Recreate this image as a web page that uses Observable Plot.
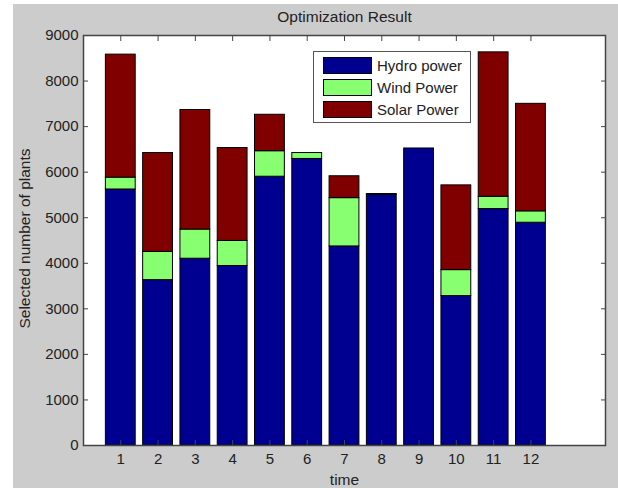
<!DOCTYPE html>
<html>
<head>
<meta charset="utf-8">
<script src="https://cdn.jsdelivr.net/npm/d3@7"></script>
<script src="https://cdn.jsdelivr.net/npm/@observablehq/plot@0.6"></script>
<style>
  body { margin: 0; background: #ffffff; }
  #wrap { position: relative; width: 618px; height: 488px; font-family: "Liberation Sans", Arial, sans-serif; }
  #legend { position: absolute; left: 313px; top: 51px; width: 156px; height: 70px; background: #fff; border: 1px solid #555; }
  .row { position: absolute; left: 9px; height: 17px; display: flex; align-items: center; }
  .sw { width: 47px; height: 15px; border: 1px solid #000; margin-right: 5px; }
  .lab { font-size: 15px; color: #222; white-space: nowrap; }
</style>
</head>
<body>
<div id="wrap"></div>
<script>
const times = [1, 2, 3, 4, 5, 6, 7, 8, 9, 10, 11, 12];
const seriesNames = ["Hydro power", "Wind Power", "Solar Power"];
const seriesColors = ["#000090", "#88ff70", "#800000"];
const hydro = [5620, 3630, 4100, 3940, 5900, 6290, 4370, 5500, 6520, 3280, 5190, 4890];
const wind  = [260, 620, 640, 550, 560, 130, 1060, 0, 0, 570, 270, 250];
const solar = [2700, 2170, 2625, 2040, 800, 0, 480, 20, 0, 1860, 3170, 2360];
const yTicks = [0, 1000, 2000, 3000, 4000, 5000, 6000, 7000, 8000, 9000];
const title = "Optimization Result";
const xLabel = "time";
const yLabel = "Selected number of plants";

const seriesValues = [hydro, wind, solar];
const rows = [];
times.forEach((t, i) => {
  let base = 0;
  seriesValues.forEach((vals, s) => {
    rows.push({t, series: seriesNames[s], y1: base, y2: base + vals[i]});
    base += vals[i];
  });
});

const fs = 15;
const chart = Plot.plot({
  width: 618,
  height: 488,
  marginLeft: 83,
  marginRight: 13,
  marginTop: 35,
  marginBottom: 43,
  style: {
    background: "linear-gradient(#cccccc, #cccccc) 13px 4px / 100% 100% no-repeat",
    fontFamily: "'Liberation Sans', Arial, sans-serif",
    fontSize: fs + "px",
    color: "#222"
  },
  x: {type: "linear", domain: [0, 14]},
  y: {domain: [0, 9000]},
  color: {domain: seriesNames, range: seriesColors},
  marks: [
    Plot.frame({fill: "white"}),
    Plot.rect(rows, {
      x1: d => d.t - 0.4, x2: d => d.t + 0.4, y1: "y1", y2: "y2",
      fill: "series", stroke: "#000", strokeWidth: 1
    }),
    // tick labels
    Plot.axisY({ticks: yTicks, tickSize: 0, tickPadding: 5, tickFormat: d3.format("d"), label: null, fontSize: fs}),
    Plot.axisX({ticks: times, tickSize: 0, tickPadding: 8, tickFormat: d => String(d), label: null, fontSize: fs}),
    // inward ticks
    Plot.axisY({anchor: "left", ticks: yTicks, tickSize: 5, dx: 5, tickFormat: () => "", label: null, stroke: "#444"}),
    Plot.axisY({anchor: "right", ticks: yTicks, tickSize: 5, dx: -5, tickFormat: () => "", label: null, stroke: "#444"}),
    Plot.axisX({anchor: "bottom", ticks: times, tickSize: 5, dy: -5, tickFormat: () => "", label: null, stroke: "#444"}),
    Plot.axisX({anchor: "top", ticks: times, tickSize: 5, dy: 5, tickFormat: () => "", label: null, stroke: "#444"}),
    Plot.frame({stroke: "#444", strokeWidth: 1.5}),
    Plot.text([title], {frameAnchor: "top", dy: -18, lineAnchor: "middle", textAnchor: "middle", fontSize: 15.5, fill: "#222"}),
    Plot.text([xLabel], {frameAnchor: "bottom", dy: 35, lineAnchor: "middle", textAnchor: "middle", fontSize: 15.5, fill: "#222"}),
    Plot.text([yLabel], {frameAnchor: "left", dx: -58, dy: -2, rotate: -90, lineAnchor: "middle", textAnchor: "middle", fontSize: 15.5, fill: "#222"})
  ]
});

const wrap = document.getElementById("wrap");
wrap.appendChild(chart);

const legend = document.createElement("div");
legend.id = "legend";
const rowTops = [5, 27, 49];
seriesNames.forEach((name, i) => {
  const r = document.createElement("div");
  r.className = "row";
  r.style.top = rowTops[i] + "px";
  const sw = document.createElement("div");
  sw.className = "sw";
  sw.style.background = seriesColors[i];
  const lab = document.createElement("span");
  lab.className = "lab";
  lab.textContent = name;
  r.appendChild(sw);
  r.appendChild(lab);
  legend.appendChild(r);
});
wrap.appendChild(legend);
</script>
</body>
</html>
